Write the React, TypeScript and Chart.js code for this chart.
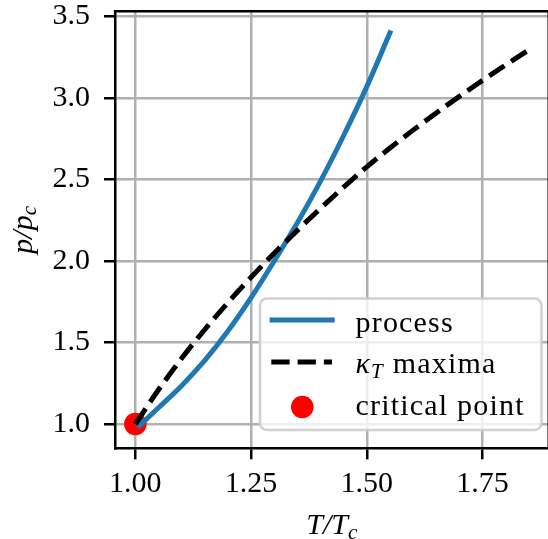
import { useEffect, useRef } from "react";
import { Chart, registerables } from "chart.js";

Chart.register(...registerables);

// ---- data ----
const PROCESS_T = [1.009, 1.05, 1.1, 1.15, 1.2, 1.25, 1.3, 1.35, 1.4, 1.45, 1.5, 1.55];
const PROCESS_P = [0.99, 1.1, 1.235, 1.39, 1.57, 1.775, 2.0, 2.235, 2.49, 2.77, 3.07, 3.4];
const KAPPA_T = [1.0, 1.05, 1.1, 1.15, 1.2, 1.25, 1.3, 1.35, 1.4, 1.45, 1.5, 1.55, 1.6, 1.65, 1.7, 1.75, 1.8, 1.85];
const KAPPA_P = [1.0, 1.21, 1.403, 1.58, 1.745, 1.9, 2.048, 2.188, 2.323, 2.453, 2.578, 2.693, 2.803, 2.908, 3.01, 3.108, 3.203, 3.295];
const CRIT_T = [1.0];
const CRIT_P = [1.0];
const X_TICKS = [1.0, 1.25, 1.5, 1.75];
const Y_TICKS = [1.0, 1.5, 2.0, 2.5, 3.0, 3.5];
const X_RANGE = [0.956, 1.893];
const Y_RANGE = [0.851, 3.532];
const LABELS = ["process", "κ_T maxima", "critical point"];

const SERIF = '"Liberation Serif", "Times New Roman", serif';
const BLUE = "#1f77b4";

function toPoints(xs: number[], ys: number[]) {
  return xs.map((x, i) => ({ x, y: ys[i] }));
}

// draw rich text (italic math with subscripts) at x, baseline y; returns width
function drawMath(ctx: CanvasRenderingContext2D, parts: { t: string; sub?: boolean; italic?: boolean }[], x: number, y: number, size: number, measureOnly = false) {
  let cx = x;
  for (const p of parts) {
    const fs = p.sub ? size * 0.7 : size;
    ctx.font = `${p.italic ? "italic " : ""}${fs}px ${SERIF}`;
    if (!measureOnly) ctx.fillText(p.t, cx, p.sub ? y + size * 0.15 : y);
    cx += ctx.measureText(p.t).width;
  }
  return cx - x;
}

const framePlugin = {
  id: "frame",
  afterDatasetsDraw(chart: any) {
    const { ctx, chartArea } = chart;
    ctx.save();
    ctx.strokeStyle = "#000";
    ctx.lineWidth = 2.5;
    ctx.beginPath();
    ctx.moveTo(chartArea.left - 1.25, chartArea.top);
    ctx.lineTo(chartArea.right + 1.25, chartArea.top);
    ctx.moveTo(chartArea.right, chartArea.top);
    ctx.lineTo(chartArea.right, chartArea.bottom);
    ctx.stroke();
    ctx.restore();
  },
};

const titlesPlugin = {
  id: "axisTitles",
  afterDraw(chart: any) {
    const { ctx, chartArea } = chart;
    ctx.save();
    ctx.fillStyle = "#000";
    ctx.textBaseline = "alphabetic";
    ctx.textAlign = "left";
    const xParts = [
      { t: "T/T", italic: true },
      { t: "c", italic: true, sub: true },
    ];
    const w = drawMath(ctx, xParts, 0, 0, 30, true);
    drawMath(ctx, xParts, (chartArea.left + chartArea.right) / 2 - w / 2, 534, 30);

    const yParts = [
      { t: "p/p", italic: true },
      { t: "c", italic: true, sub: true },
    ];
    const wy = drawMath(ctx, yParts, 0, 0, 30, true);
    ctx.translate(31.5, (chartArea.top + chartArea.bottom) / 2);
    ctx.rotate(-Math.PI / 2);
    drawMath(ctx, yParts, -wy / 2, 0, 30);
    ctx.restore();
  },
};

const legendPlugin = {
  id: "boxLegend",
  afterDraw(chart: any) {
    const ctx: CanvasRenderingContext2D = chart.ctx;
    const ds = chart.data.datasets;
    ctx.save();
    const bx = 260, by = 298.5, bw = 281.5, bh = 131.5;
    ctx.beginPath();
    (ctx as any).roundRect(bx, by, bw, bh, 7);
    ctx.fillStyle = "rgba(255,255,255,0.8)";
    ctx.fill();
    ctx.strokeStyle = "rgba(204,204,204,0.9)";
    ctx.lineWidth = 2.5;
    ctx.stroke();

    // handles
    ctx.lineCap = "butt";
    ctx.strokeStyle = ds[0].borderColor;
    ctx.lineWidth = ds[0].borderWidth;
    ctx.setLineDash([]);
    ctx.beginPath();
    ctx.moveTo(269.7, 320);
    ctx.lineTo(334.7, 320);
    ctx.stroke();

    ctx.strokeStyle = ds[1].borderColor;
    ctx.lineWidth = ds[1].borderWidth;
    ctx.setLineDash(ds[1].borderDash);
    ctx.beginPath();
    ctx.moveTo(271.3, 362);
    ctx.lineTo(332, 362);
    ctx.stroke();
    ctx.setLineDash([]);

    ctx.fillStyle = ds[2].backgroundColor;
    ctx.beginPath();
    ctx.arc(302.3, 407, 11.3, 0, Math.PI * 2);
    ctx.fill();

    // labels
    ctx.fillStyle = "#000";
    ctx.textAlign = "left";
    ctx.textBaseline = "alphabetic";
    (ctx as any).letterSpacing = "1.2px";
    const tx = 355.5;
    const baselines = [332, 373.3, 415];
    LABELS.forEach((lab, i) => {
      if (lab.includes("_")) {
        const [a, rest] = lab.split("_");
        const [sub, ...tail] = rest.split(" ");
        drawMath(
          ctx,
          [
            { t: a, italic: true },
            { t: sub, italic: true, sub: true },
            { t: " " + tail.join(" ") },
          ],
          tx,
          baselines[i],
          30
        );
      } else {
        ctx.font = `30px ${SERIF}`;
        ctx.fillText(lab, tx, baselines[i]);
      }
    });
    ctx.restore();
  },
};

export default function App() {
  const ref = useRef<HTMLCanvasElement | null>(null);

  useEffect(() => {
    if (!ref.current) return;
    const chart = new Chart(ref.current, {
      type: "scatter",
      data: {
        datasets: [
          {
            label: LABELS[0],
            data: toPoints(PROCESS_T, PROCESS_P),
            showLine: true,
            borderColor: BLUE,
            borderWidth: 5,
            borderCapStyle: "square",
            cubicInterpolationMode: "monotone",
            pointRadius: 0,
            order: 2,
          },
          {
            label: LABELS[1],
            data: toPoints(KAPPA_T, KAPPA_P),
            showLine: true,
            borderColor: "#000000",
            borderWidth: 5,
            borderDash: [18.3, 8],
            borderCapStyle: "butt",
            cubicInterpolationMode: "monotone",
            pointRadius: 0,
            order: 1,
          },
          {
            label: LABELS[2],
            data: toPoints(CRIT_T, CRIT_P),
            backgroundColor: "#ff0000",
            borderWidth: 0,
            pointRadius: 11.3,
            order: 3,
          },
        ],
      },
      options: {
        animation: false,
        responsive: false,
        devicePixelRatio: 1,
        events: [],
        layout: { padding: { top: 10.5, right: 5, bottom: 0, left: 0 } },
        plugins: {
          legend: { display: false },
          tooltip: { enabled: false },
        },
        scales: {
          x: {
            type: "linear",
            min: X_RANGE[0],
            max: X_RANGE[1],
            afterBuildTicks: (s: any) => {
              s.ticks = X_TICKS.map((v) => ({ value: v }));
            },
            afterFit: (s: any) => {
              s.height = 90.7;
              s.paddingLeft = 0;
              s.paddingRight = 0;
            },
            ticks: {
              autoSkip: false,
              maxRotation: 0,
              padding: 7,
              color: "#000",
              font: { family: SERIF, size: 30 },
              callback: (v: any) => Number(v).toFixed(2),
            },
            grid: {
              color: "#b0b0b0",
              lineWidth: 2.5,
              drawTicks: true,
              tickLength: 11,
              tickColor: "#000",
              tickWidth: 2.5,
            },
            border: { display: true, color: "#000", width: 2.5 },
          },
          y: {
            type: "linear",
            min: Y_RANGE[0],
            max: Y_RANGE[1],
            afterBuildTicks: (s: any) => {
              s.ticks = Y_TICKS.map((v) => ({ value: v }));
            },
            afterFit: (s: any) => {
              s.width = 115;
              s.paddingTop = 0;
              s.paddingBottom = 0;
            },
            ticks: {
              autoSkip: false,
              padding: 14,
              color: "#000",
              font: { family: SERIF, size: 30 },
              callback: (v: any) => Number(v).toFixed(1),
            },
            grid: {
              color: "#b0b0b0",
              lineWidth: 2.5,
              drawTicks: true,
              tickLength: 11,
              tickColor: "#000",
              tickWidth: 2.5,
            },
            border: { display: true, color: "#000", width: 2.5 },
          },
        },
      },
      plugins: [framePlugin, titlesPlugin, legendPlugin],
    } as any);
    return () => chart.destroy();
  }, []);

  return (
    <div style={{ position: "absolute", left: 0, top: 0, width: 548, height: 539, overflow: "hidden", background: "#fff" }}>
      <canvas ref={ref} width={560} height={539} style={{ width: 560, height: 539, display: "block" }} />
    </div>
  );
}
